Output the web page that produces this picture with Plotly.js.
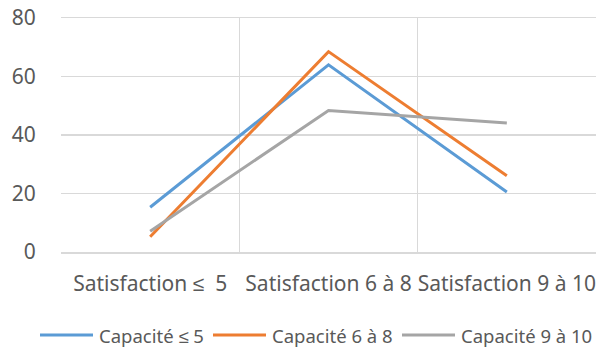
<!DOCTYPE html>
<html><head><meta charset="utf-8">
<script src="https://cdn.plot.ly/plotly-3.0.1.min.js"></script>
<style>html,body{margin:0;padding:0;background:#fff}#chart{width:598px;height:356px}</style>
</head><body><div id="chart"></div>
<script>
const categories = ["Satisfaction ≤  5", "Satisfaction 6 à 8", "Satisfaction 9 à 10"];
const seriesNames = ["Capacité ≤ 5", "Capacité 6 à 8", "Capacité 9 à 10"];
const capLe5 = [15.3, 64.0, 20.5];
const cap6to8 = [5.2, 68.5, 26.1];
const cap9to10 = [7.1, 48.4, 44.1];
const colors = ["#5B9BD5", "#ED7D31", "#A5A5A5"];
const yTicks = [0, 20, 40, 60, 80];

const W = 598, H = 356, M = {l: 61, r: 2, t: 18, b: 104};
const PW = W - M.l - M.r, PH = H - M.t - M.b;
const px = x => (x - M.l) / PW;         // pixel -> paper x
const py = y => (H - M.b - y) / PH;     // pixel -> paper y

const font = "'Noto Sans', sans-serif";
const data = [capLe5, cap6to8, cap9to10].map((v, i) => ({
  type: "scatter", mode: "lines", x: categories, y: v, name: seriesNames[i],
  line: {color: colors[i], width: 3}, cliponaxis: false, showlegend: false
}));

// custom legend (symbol line + label), laid out like the reference
const legendX = [40, 213, 402];
const legendLen = 53, legendY = 335;
const shapes = [], annotations = [];
seriesNames.forEach((n, i) => {
  shapes.push({type: "line", xref: "paper", yref: "paper",
    x0: px(legendX[i]), x1: px(legendX[i] + legendLen), y0: py(legendY), y1: py(legendY),
    line: {color: colors[i], width: 3}});
  annotations.push({xref: "paper", yref: "paper", x: px(legendX[i] + legendLen + 4), y: py(legendY),
    xanchor: "left", yanchor: "middle", showarrow: false, text: n,
    font: {size: 18.5, color: "#595959", family: font}});
});

const layout = {
  width: W, height: H, margin: M,
  paper_bgcolor: "#fff", plot_bgcolor: "#fff",
  font: {family: font, color: "#595959", size: 21},
  showlegend: false, shapes, annotations,
  xaxis: {type: "category", tickson: "boundaries", showgrid: true, gridcolor: "#d9d9d9", gridwidth: 1.5,
          showline: true, linecolor: "#d9d9d9", linewidth: 1.5, mirror: true, ticks: "", ticklen: 0,
          ticklabelstandoff: 12, tickangle: 0, automargin: false,
          tickfont: {size: 21, color: "#595959"}, range: [-0.5, 2.5], fixedrange: true},
  yaxis: {range: [0, 80], tickvals: yTicks, showgrid: true, gridcolor: "#d9d9d9", gridwidth: 1.5,
          showline: false, zeroline: false, ticks: "outside", ticklen: 20, tickcolor: "rgba(0,0,0,0)",
          automargin: false, tickfont: {size: 21, color: "#595959"}, fixedrange: true}
};
Plotly.newPlot("chart", data, layout, {displayModeBar: false, staticPlot: true});
</script></body></html>
